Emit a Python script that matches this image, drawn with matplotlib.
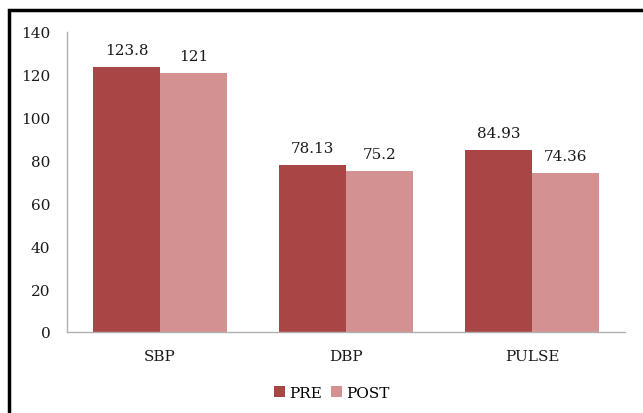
import matplotlib.pyplot as plt
import numpy as np
from matplotlib.patches import Rectangle

categories = ["SBP", "DBP", "PULSE"]
pre = [123.8, 78.13, 84.93]
post = [121, 75.2, 74.36]
pre_labels = ["123.8", "78.13", "84.93"]
post_labels = ["121", "75.2", "74.36"]

PRE_COLOR = "#a84646"
POST_COLOR = "#d39191"

plt.rcParams["font.family"] = "DejaVu Serif"

fig = plt.figure(figsize=(6.43, 4.14), dpi=100)
ax = fig.add_axes([67 / 643, 1 - 333 / 414, (625 - 67) / 643, 300 / 414])

x = np.arange(len(categories))
w = 0.36
b1 = ax.bar(x - w / 2, pre, w, color=PRE_COLOR, label="PRE")
b2 = ax.bar(x + w / 2, post, w, color=POST_COLOR, label="POST")

for bars, labels in ((b1, pre_labels), (b2, post_labels)):
    for bar, lab in zip(bars, labels):
        ax.annotate(lab, (bar.get_x() + bar.get_width() / 2, bar.get_height()),
                    xytext=(0, 7), textcoords="offset points",
                    ha="center", va="bottom", fontsize=11, color="#1a1a1a")

ax.set_xlim(-0.5, 2.5)
ax.set_ylim(0, 140)
ax.set_yticks(range(0, 141, 20))
ax.set_xticks(x)
ax.set_xticklabels(categories)
ax.tick_params(length=0, labelsize=11, colors="#1a1a1a")
ax.tick_params(axis="x", pad=12)
ax.tick_params(axis="y", pad=12)

for side in ("top", "right"):
    ax.spines[side].set_visible(False)
for side in ("left", "bottom"):
    ax.spines[side].set_color("#b0b0b0")
    ax.spines[side].set_linewidth(1)

fig.legend(loc="center", bbox_to_anchor=(332 / 643, 1 - 394 / 414), ncol=2,
           frameon=False, fontsize=11, handlelength=0.7, handleheight=0.7,
           handletextpad=0.3, columnspacing=0.6)

# outer frame, cut off on the right and bottom
fig.patches.append(Rectangle((9 / 643, -0.05), 1.1, 1 - 11 / 414 + 0.05,
                             transform=fig.transFigure, fill=False,
                             edgecolor="black", linewidth=2.5))

fig.savefig("out.png", dpi=100)
